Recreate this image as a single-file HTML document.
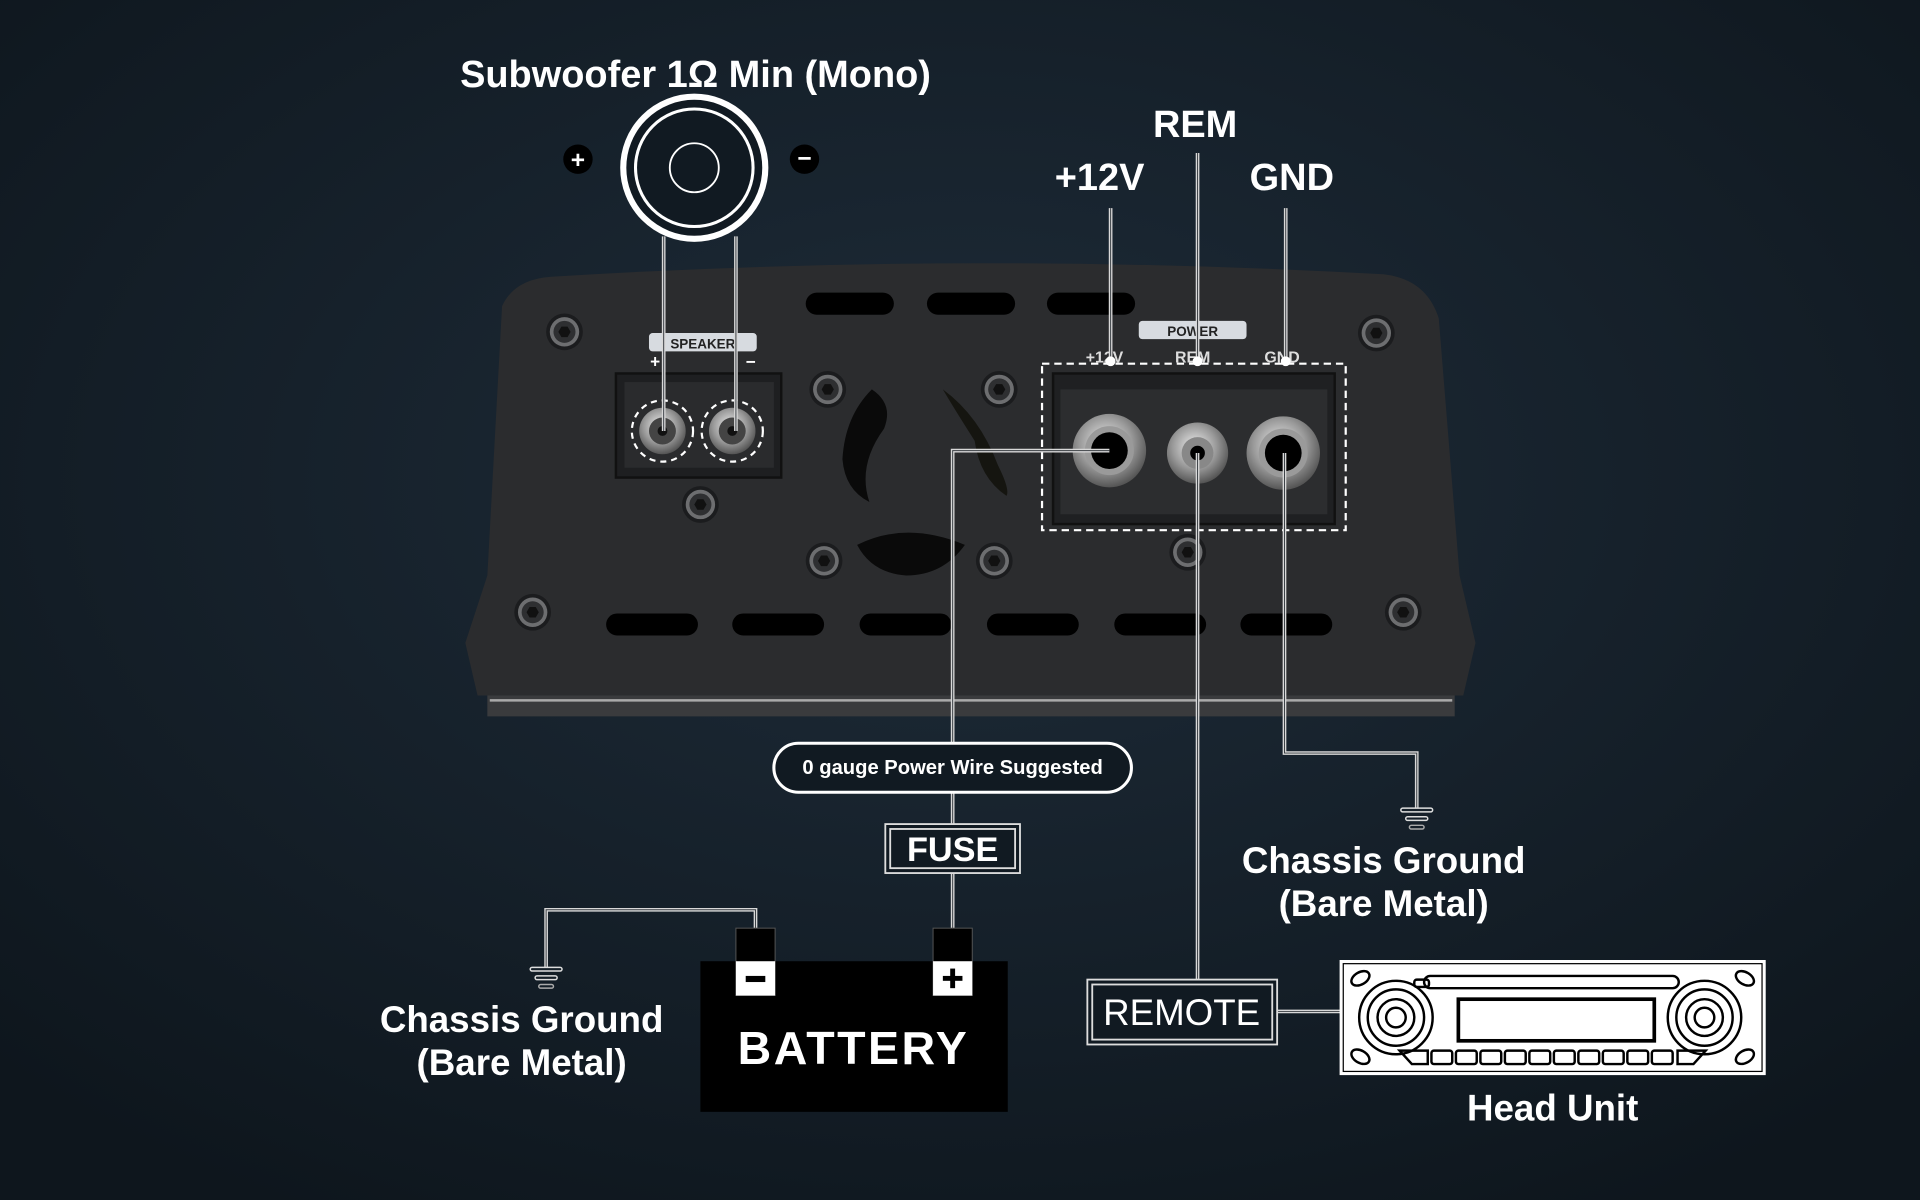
<!DOCTYPE html>
<html><head><meta charset="utf-8"><style>
html,body{margin:0;padding:0;width:1920px;height:1200px;overflow:hidden;background:#111a22}
svg{display:block}
text{font-family:"Liberation Sans","DejaVu Sans",sans-serif;font-weight:bold;fill:#fff}
</style></head><body>
<svg width="1920" height="1200" viewBox="0 0 1568 980" xmlns="http://www.w3.org/2000/svg">
<defs>
<radialGradient id="bg" cx="50%" cy="40%" r="70%">
<stop offset="0" stop-color="#1e2c39"/><stop offset="1" stop-color="#0e161d"/>
</radialGradient>
<radialGradient id="silver" cx="45%" cy="40%" r="60%">
<stop offset="0" stop-color="#eee"/><stop offset="0.6" stop-color="#999"/><stop offset="1" stop-color="#555"/>
</radialGradient>
<g id="screw"><circle r="15" fill="#1b1c1e"/><circle r="12" fill="#6d6e70"/><circle r="9" fill="#2e2f31"/><polygon points="-5,0 -2.5,-4.3 2.5,-4.3 5,0 2.5,4.3 -2.5,4.3" fill="#111"/></g>
<g id="gnd"><rect x="-13" y="0" width="26" height="3" rx="1.5" fill="none" stroke="#ddd" stroke-width="1.2"/><rect x="-9" y="7" width="18" height="3" rx="1.5" fill="none" stroke="#ddd" stroke-width="1.2"/><rect x="-6" y="14" width="12" height="3" rx="1.5" fill="none" stroke="#aaa" stroke-width="1.2"/></g>
</defs>
<rect width="1568" height="980" fill="url(#bg)"/>

<!-- amp body -->
<path d="M398,568 L1188,568 L1188,585 L398,585 Z" fill="#3a3b3d"/>
<path d="M400,572 L1186,572" stroke="#aaa" stroke-width="2"/>
<path d="M410,250 Q420,228 450,226 Q790,205 1130,224 Q1165,228 1175,260 L1192,470 L1205,525 L1195,568 L390,568 L380,525 L398,470 Z" fill="#2b2c2e"/>
<!-- slots -->
<g fill="#000">
<rect x="658" y="239" width="72" height="18" rx="9"/><rect x="757" y="239" width="72" height="18" rx="9"/><rect x="855" y="239" width="72" height="18" rx="9"/>
<rect x="495" y="501" width="75" height="18" rx="9"/><rect x="598" y="501" width="75" height="18" rx="9"/><rect x="702" y="501" width="75" height="18" rx="9"/><rect x="806" y="501" width="75" height="18" rx="9"/><rect x="910" y="501" width="75" height="18" rx="9"/><rect x="1013" y="501" width="75" height="18" rx="9"/>
</g>
<!-- fan openings -->
<path d="M712,318 Q730,330 722,350 Q700,380 710,410 Q690,400 688,375 Q690,340 712,318Z" fill="#0a0a0a"/>
<path d="M770,318 Q800,340 815,380 Q825,400 822,405 Q800,390 796,360 Q780,335 770,318Z" fill="#151510"/>
<path d="M700,445 Q740,425 788,445 Q770,470 740,470 Q712,468 700,445Z" fill="#0a0a0a"/>
<!-- screws -->
<use href="#screw" x="461" y="271"/><use href="#screw" x="1124" y="272"/><use href="#screw" x="435" y="500"/><use href="#screw" x="1146" y="500"/>
<use href="#screw" x="572" y="412"/><use href="#screw" x="676" y="318"/><use href="#screw" x="816" y="318"/><use href="#screw" x="673" y="458"/><use href="#screw" x="812" y="458"/><use href="#screw" x="970" y="451"/>

<!-- speaker block -->
<rect x="530" y="272" width="88" height="15" rx="3" fill="#d7dbe0"/>
<text x="574" y="284.5" font-size="11" text-anchor="middle" style="fill:#222">SPEAKER</text>
<text x="535" y="300" font-size="14" text-anchor="middle">+</text><text x="613" y="300" font-size="14" text-anchor="middle">−</text>
<rect x="503" y="305" width="135" height="85" fill="#1e1f21" stroke="#111" stroke-width="2"/>
<rect x="510" y="312" width="122" height="70" fill="#2a2b2d"/>
<circle cx="541" cy="352" r="19" fill="url(#silver)"/><circle cx="541" cy="352" r="11" fill="#444"/><circle cx="541" cy="352" r="4" fill="#111"/>
<circle cx="598" cy="352" r="19" fill="url(#silver)"/><circle cx="598" cy="352" r="11" fill="#444"/><circle cx="598" cy="352" r="4" fill="#111"/>
<circle cx="541" cy="352" r="25" fill="none" stroke="#fff" stroke-width="1.8" stroke-dasharray="5,4"/>
<circle cx="598" cy="352" r="25" fill="none" stroke="#fff" stroke-width="1.8" stroke-dasharray="5,4"/>

<!-- power block -->
<rect x="930" y="262" width="88" height="15" rx="3" fill="#d7dbe0"/>
<text x="974" y="274.5" font-size="11" text-anchor="middle" style="fill:#222">POWER</text>
<text x="902" y="296" font-size="13" text-anchor="middle" style="fill:#ddd">+12V</text>
<text x="974" y="296" font-size="13" text-anchor="middle" style="fill:#ddd">REM</text>
<text x="1047" y="296" font-size="13" text-anchor="middle" style="fill:#ddd">GND</text>
<rect x="860" y="305" width="230" height="123" fill="#1f2022" stroke="#111" stroke-width="2"/>
<rect x="866" y="318" width="218" height="102" fill="#2c2d2f"/>
<rect x="851" y="297" width="248" height="136" fill="none" stroke="#fff" stroke-width="1.8" stroke-dasharray="6,4"/>
<circle cx="906" cy="368" r="30" fill="url(#silver)"/><circle cx="906" cy="368" r="20" fill="#9a9a9a"/><circle cx="906" cy="368" r="15" fill="#000"/>
<circle cx="978" cy="370" r="25" fill="url(#silver)"/><circle cx="978" cy="370" r="13" fill="#888"/><circle cx="978" cy="370" r="6" fill="#000"/>
<circle cx="1048" cy="370" r="30" fill="url(#silver)"/><circle cx="1048" cy="370" r="20" fill="#9a9a9a"/><circle cx="1048" cy="370" r="15" fill="#000"/>

<!-- speaker graphic -->
<text x="568" y="71" font-size="31" text-anchor="middle">Subwoofer 1Ω Min (Mono)</text>
<circle cx="567" cy="137" r="58" fill="#111a22" stroke="#fff" stroke-width="5"/>
<circle cx="567" cy="137" r="48" fill="none" stroke="#fff" stroke-width="2.5"/>
<circle cx="567" cy="137" r="20" fill="none" stroke="#fff" stroke-width="1.5"/>
<circle cx="472" cy="130" r="12" fill="#000"/><text x="472" y="137" font-size="20" text-anchor="middle">+</text>
<circle cx="657" cy="130" r="12" fill="#000"/><text x="657" y="136" font-size="20" text-anchor="middle">−</text>

<!-- wires (double line) -->
<g fill="none" stroke-linejoin="miter">
<g stroke="#d8d8d8" stroke-width="3">
<path d="M542,193 V352"/><path d="M601,193 V352"/>
<path d="M907,170 V295"/><path d="M978,125 V295"/><path d="M1050,170 V295"/>
<path d="M906,368 H778 V607"/><path d="M778,647 V673"/><path d="M778,713 V758"/>
<path d="M978,370 V800"/><path d="M1043,826 H1095"/>
<path d="M1049,370 V615 H1157 V660"/>
<path d="M617,758 V743 H446 V790"/>
</g>
<g stroke="#3a3f44" stroke-width="0.8">
<path d="M542,193 V352"/><path d="M601,193 V352"/>
<path d="M907,170 V295"/><path d="M978,125 V295"/><path d="M1050,170 V295"/>
<path d="M906,368 H778 V607"/><path d="M778,647 V673"/><path d="M778,713 V758"/>
<path d="M978,370 V800"/><path d="M1043,826 H1095"/>
<path d="M1049,370 V615 H1157 V660"/>
<path d="M617,758 V743 H446 V790"/>
</g>
</g>
<circle cx="907" cy="295" r="4" fill="#fff"/><circle cx="978" cy="295" r="4" fill="#fff"/><circle cx="1050" cy="295" r="4" fill="#fff"/>

<text x="898" y="155" font-size="31" text-anchor="middle">+12V</text>
<text x="976" y="112" font-size="31" text-anchor="middle">REM</text>
<text x="1055" y="155" font-size="31" text-anchor="middle">GND</text>

<!-- pill -->
<rect x="632" y="607" width="292" height="40" rx="20" fill="#111a22" stroke="#fff" stroke-width="2.5"/>
<text x="778" y="632" font-size="16.5" text-anchor="middle">0 gauge Power Wire Suggested</text>
<!-- fuse -->
<rect x="723" y="673" width="110" height="40" fill="#111a22" stroke="#ddd" stroke-width="1.5"/>
<rect x="727" y="677" width="102" height="32" fill="none" stroke="#ddd" stroke-width="1.5"/>
<text x="778" y="703" font-size="28" text-anchor="middle">FUSE</text>
<!-- remote -->
<rect x="888" y="800" width="155" height="53" fill="#111a22" stroke="#ddd" stroke-width="1.5"/>
<rect x="892" y="804" width="147" height="45" fill="none" stroke="#ddd" stroke-width="1.5"/>
<text x="965" y="837" font-size="30" text-anchor="middle" style="font-weight:normal">REMOTE</text>

<use href="#gnd" x="1157" y="660"/>
<use href="#gnd" x="446" y="790"/>
<text x="1130" y="713" font-size="30" text-anchor="middle">Chassis Ground</text>
<text x="1130" y="748" font-size="30" text-anchor="middle">(Bare Metal)</text>
<text x="426" y="843" font-size="30" text-anchor="middle">Chassis Ground</text>
<text x="426" y="878" font-size="30" text-anchor="middle">(Bare Metal)</text>

<!-- battery -->
<rect x="572" y="785" width="251" height="123" fill="#000"/>
<rect x="601" y="758" width="32" height="55" fill="#000" stroke="#555" stroke-width="0.8"/>
<rect x="601" y="785" width="32" height="28" fill="#fff"/>
<rect x="609" y="797" width="16" height="5" fill="#000"/>
<rect x="762" y="758" width="32" height="55" fill="#000" stroke="#555" stroke-width="0.8"/>
<rect x="762" y="785" width="32" height="28" fill="#fff"/>
<rect x="770" y="797" width="16" height="4" fill="#000"/><rect x="776" y="791" width="4" height="16" fill="#000"/>
<text x="697" y="869" font-size="38" text-anchor="middle" letter-spacing="2">BATTERY</text>

<!-- head unit -->
<g transform="translate(1095,785)" fill="none" stroke="#000" stroke-width="2">
<rect x="0" y="0" width="346" height="92" fill="#fff" stroke="#fff"/>
<rect x="2" y="2" width="342" height="88" stroke-width="1"/>
<rect x="68" y="12" width="208" height="10" rx="5"/>
<rect x="60" y="15" width="12" height="6" rx="2"/>
<rect x="96" y="31" width="160" height="34" stroke-width="3"/>
<circle cx="45" cy="46" r="30"/><circle cx="45" cy="46" r="23"/><circle cx="45" cy="46" r="15"/><circle cx="45" cy="46" r="8"/>
<circle cx="297" cy="46" r="30"/><circle cx="297" cy="46" r="23"/><circle cx="297" cy="46" r="15"/><circle cx="297" cy="46" r="8"/>
<ellipse cx="16" cy="14" rx="8" ry="5" transform="rotate(-30 16 14)"/><ellipse cx="330" cy="14" rx="8" ry="5" transform="rotate(30 330 14)"/>
<ellipse cx="16" cy="78" rx="8" ry="5" transform="rotate(30 16 78)"/><ellipse cx="330" cy="78" rx="8" ry="5" transform="rotate(-30 330 78)"/>
<path d="M48,73 H71 V84 H58 Z"/><path d="M298,73 H275 V84 H288 Z"/>
<rect x="74" y="73" width="17" height="11" rx="2"/><rect x="94" y="73" width="17" height="11" rx="2"/><rect x="114" y="73" width="17" height="11" rx="2"/><rect x="134" y="73" width="17" height="11" rx="2"/><rect x="154" y="73" width="17" height="11" rx="2"/><rect x="174" y="73" width="17" height="11" rx="2"/><rect x="194" y="73" width="17" height="11" rx="2"/><rect x="214" y="73" width="17" height="11" rx="2"/><rect x="234" y="73" width="17" height="11" rx="2"/><rect x="254" y="73" width="17" height="11" rx="2"/>
</g>
<text x="1268" y="915" font-size="30" text-anchor="middle">Head Unit</text>
</svg>
</body></html>
